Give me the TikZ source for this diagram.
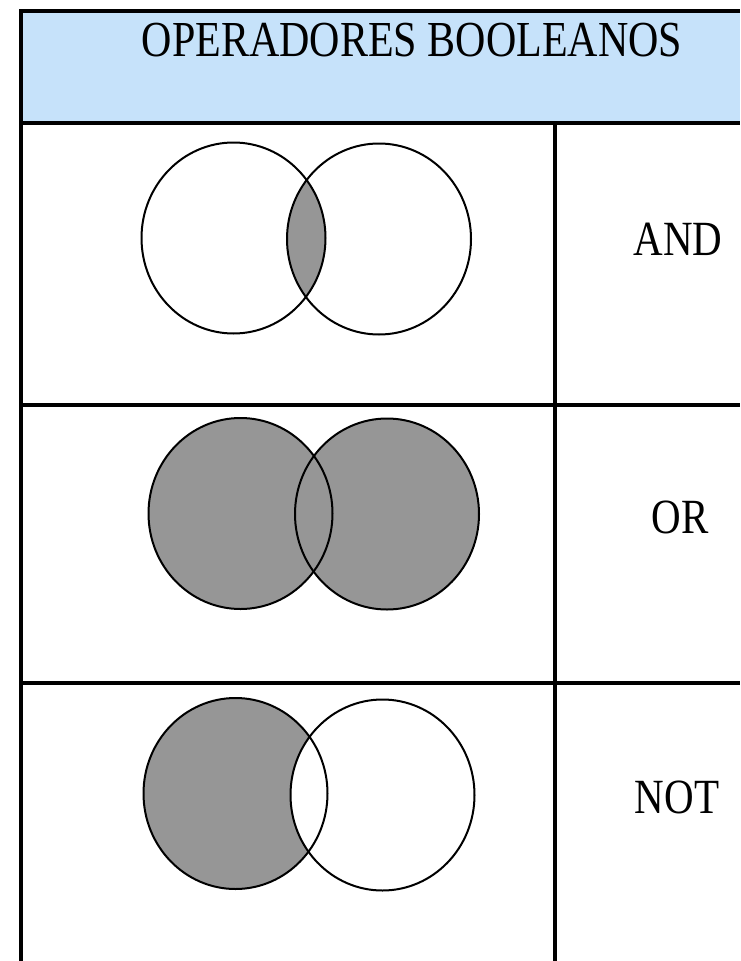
\documentclass[tikz,border=0pt]{standalone}
\usepackage{fontspec}
\setmainfont{Liberation Serif}
\usepackage{xcolor}
\usepackage{tikz}
\definecolor{boolHead}{HTML}{C6E2FA}
\definecolor{boolShade}{HTML}{969696}
\definecolor{boolInk}{HTML}{000000}
\newcommand{\booltall}[1]{\scalebox{1}[1.2]{#1}}
\tikzset{
  bool diagram/.style={x=1pt, y=-1pt, line cap=butt, line join=miter},
  bool rule/.style={draw=boolInk, line width=4.5pt},
  bool set/.style={draw=boolInk, line width=2pt},
  bool shade/.style={fill=boolShade},
  venn radius/.style={x radius=92pt, y radius=95.5pt},
  bool label/.style={font=\fontsize{41}{41}\selectfont, text=boolInk,
    anchor=base, inner sep=0pt}
}

\begin{document}
\begin{tikzpicture}[bool diagram]
\useasboundingbox (0,0) rectangle (740,961);
\fill[boolHead] (21,11) rectangle (740,123);
% set centres, one pair per row
\coordinate (andA) at (233.5,238);
\coordinate (andB) at (379,239);
\coordinate (orA) at (240.5,513.5);
\coordinate (orB) at (387,514);
\coordinate (notA) at (235.5,793.5);
\coordinate (notB) at (382.5,795);
% AND: the lens only
\begin{scope}
  \clip (andA) ellipse [venn radius];
  \fill[bool shade] (andB) ellipse [venn radius];
\end{scope}
% OR: both sets
\fill[bool shade] (orA) ellipse [venn radius] (orB) ellipse [venn radius];
% NOT: first set without the lens
\fill[bool shade] (notA) ellipse [venn radius];
\begin{scope}
  \clip (notA) ellipse [venn radius];
  \fill[white] (notB) ellipse [venn radius];
\end{scope}
\foreach \s in {andA,andB,orA,orB,notA,notB}
  \draw[bool set] (\s) ellipse [venn radius];
% table rules
\draw[bool rule] (21,961) -- (21,11) -- (740,11);
\foreach \y in {123,405,683}
  \draw[bool rule] (21,\y) -- (740,\y);
\draw[bool rule] (555,123) -- (555,961);
\node[bool label, font=\fontsize{42}{42}\selectfont] (opHead) at (412,56) {\booltall{OPERADORES BOOLEANOS}};
\node[bool label] (opAnd) at (678,255) {\booltall{AND}};
\node[bool label] (opOr) at (680,533) {\booltall{OR}};
\node[bool label] (opNot) at (677,813) {\booltall{NOT}};
\end{tikzpicture}
\end{document}
